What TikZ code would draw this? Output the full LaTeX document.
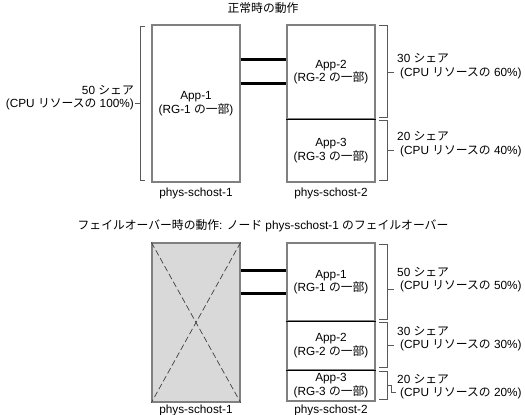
\documentclass[tikz,border=0pt]{standalone}
\usepackage{fontspec}
\setmainfont{Liberation Sans}
\newfontfamily\jafont{Noto Sans CJK JP}
\newcommand{\ja}[1]{{\jafont #1}}
\usetikzlibrary{calc}

\begin{document}
\begin{tikzpicture}[x=1pt, y=-1pt, every node/.style={font=\fontsize{11.8}{13.5}\selectfont}]
% Styles
\tikzstyle{host} = [rectangle, minimum width=88pt, inner sep=0pt, draw=black!50, line width=1.2pt, align=center]
\tikzstyle{failed} = [host, fill=black!15]
\tikzstyle{link} = [line width=2.4pt, black]
\tikzstyle{divider} = [line width=1.2pt, black]
\tikzstyle{bracket} = [line width=0.8pt, draw=black!65]
\tikzstyle{cross} = [line width=0.7pt, draw=black!75, dash pattern=on 6pt off 3pt]
\tikzstyle{share} = [align=left, anchor=west, inner sep=0pt]
\tikzstyle{caption} = [inner sep=0pt]

\useasboundingbox (0,0) rectangle (525,415);

% Normal operation
\node (title_normal) [caption] at (263,8) {\ja{正常時の動作}};
\node (host_one) [host, minimum height=157pt] at (196,103.5) {App-1\\(RG-1 \ja{の一部})};
\node (app_two) [host, minimum height=94pt] at (331,72) {App-2\\(RG-2 \ja{の一部})};
\node (app_three) [host, minimum height=63pt] at (331,150.5) {App-3\\(RG-3 \ja{の一部})};
\node (name_one) [caption] at (196,193) {phys-schost-1};
\node (name_two) [caption] at (331,193) {phys-schost-2};

\draw [divider] (app_two.south west) -- (app_two.south east);
\draw [link] ([yshift=-35pt]host_one.north east) -- ([yshift=-35pt]app_two.north west);
\draw [link] ([yshift=-59pt]host_one.north east) -- ([yshift=-59pt]app_two.north west);

\draw [bracket] ([xshift=-6pt,yshift=-2pt]host_one.north west) -- ++(-5,0) -- ++(0,154) -- ++(5,0);
\draw [bracket] ([xshift=-11pt]host_one.west) -- ++(-5,0);
\node (share_one) [share, anchor=east, align=right] at (134,97.5) {50 \ja{シェア}\\(CPU \ja{リソースの} 100\%)};

\draw [bracket] ([xshift=3pt,yshift=-1pt]app_two.north east) -- ++(9,0) -- ++(0,92) -- ++(-9,0);
\draw [bracket] ([xshift=12pt]app_two.east) -- ++(6,0);
\node (share_two) [share] at (397,66) {30 \ja{シェア}\\\hspace{3pt}(CPU \ja{リソースの} 60\%)};

\draw [bracket] ([xshift=3pt,yshift=-2pt]app_three.north east) -- ++(9,0) -- ++(0,60) -- ++(-9,0);
\draw [bracket] ([xshift=12pt]app_three.east) -- ++(6,0);
\node (share_three) [share] at (397,144) {20 \ja{シェア}\\\hspace{3pt}(CPU \ja{リソースの} 40\%)};

% Failover of phys-schost-1
\node (title_failover) [caption] at (263,226) {\ja{フェイルオーバー時の動作}: \ja{ノード} phys-schost-1 \ja{のフェイルオーバー}};
\node (host_down) [failed, minimum height=159pt] at (196,322.5) {};
\node (moved_one) [host, minimum height=78pt] at (331,282) {App-1\\(RG-1 \ja{の一部})};
\node (moved_two) [host, minimum height=49pt] at (331,345.5) {App-2\\(RG-2 \ja{の一部})};
\node (moved_three) [host, minimum height=31pt] at (331,385.5) {App-3\\(RG-3 \ja{の一部})};
\node (name_down) [caption] at (196,410) {phys-schost-1};
\node (name_up) [caption] at (331,410) {phys-schost-2};

\draw [cross] (host_down.north west) -- (host_down.south east);
\draw [cross] (host_down.north east) -- (host_down.south west);
\draw [divider] (moved_one.south west) -- (moved_one.south east);
\draw [divider] (moved_two.south west) -- (moved_two.south east);
\draw [link] ([yshift=-28pt]host_down.north east) -- ([yshift=-28pt]moved_one.north west);
\draw [link] ([yshift=-51pt]host_down.north east) -- ([yshift=-51pt]moved_one.north west);

\draw [bracket] ([xshift=3pt,yshift=-2pt]moved_one.north east) -- ++(9,0) -- ++(0,75) -- ++(-9,0);
\draw [bracket] ([xshift=12pt,yshift=-7pt]moved_one.east) -- ++(6,0);
\node (share_four) [share] at (397,279.5) {50 \ja{シェア}\\\hspace{3pt}(CPU \ja{リソースの} 50\%)};

\draw [bracket] ([xshift=3pt,yshift=-2pt]moved_two.north east) -- ++(9,0) -- ++(0,45) -- ++(-9,0);
\draw [bracket] ([xshift=12pt]moved_two.east) -- ++(6,0);
\node (share_five) [share] at (397,338.5) {30 \ja{シェア}\\\hspace{3pt}(CPU \ja{リソースの} 30\%)};

\draw [bracket] ([xshift=3pt,yshift=-2pt]moved_three.north east) -- ++(9,0) -- ++(0,28) -- ++(-9,0);
\draw [bracket] ([xshift=12pt]moved_three.east) -- ++(4,0) -- ++(0,7) -- ++(4,0);
\node (share_six) [share] at (397,386.5) {20 \ja{シェア}\\\hspace{3pt}(CPU \ja{リソースの} 20\%)};

\end{tikzpicture}
\end{document}
